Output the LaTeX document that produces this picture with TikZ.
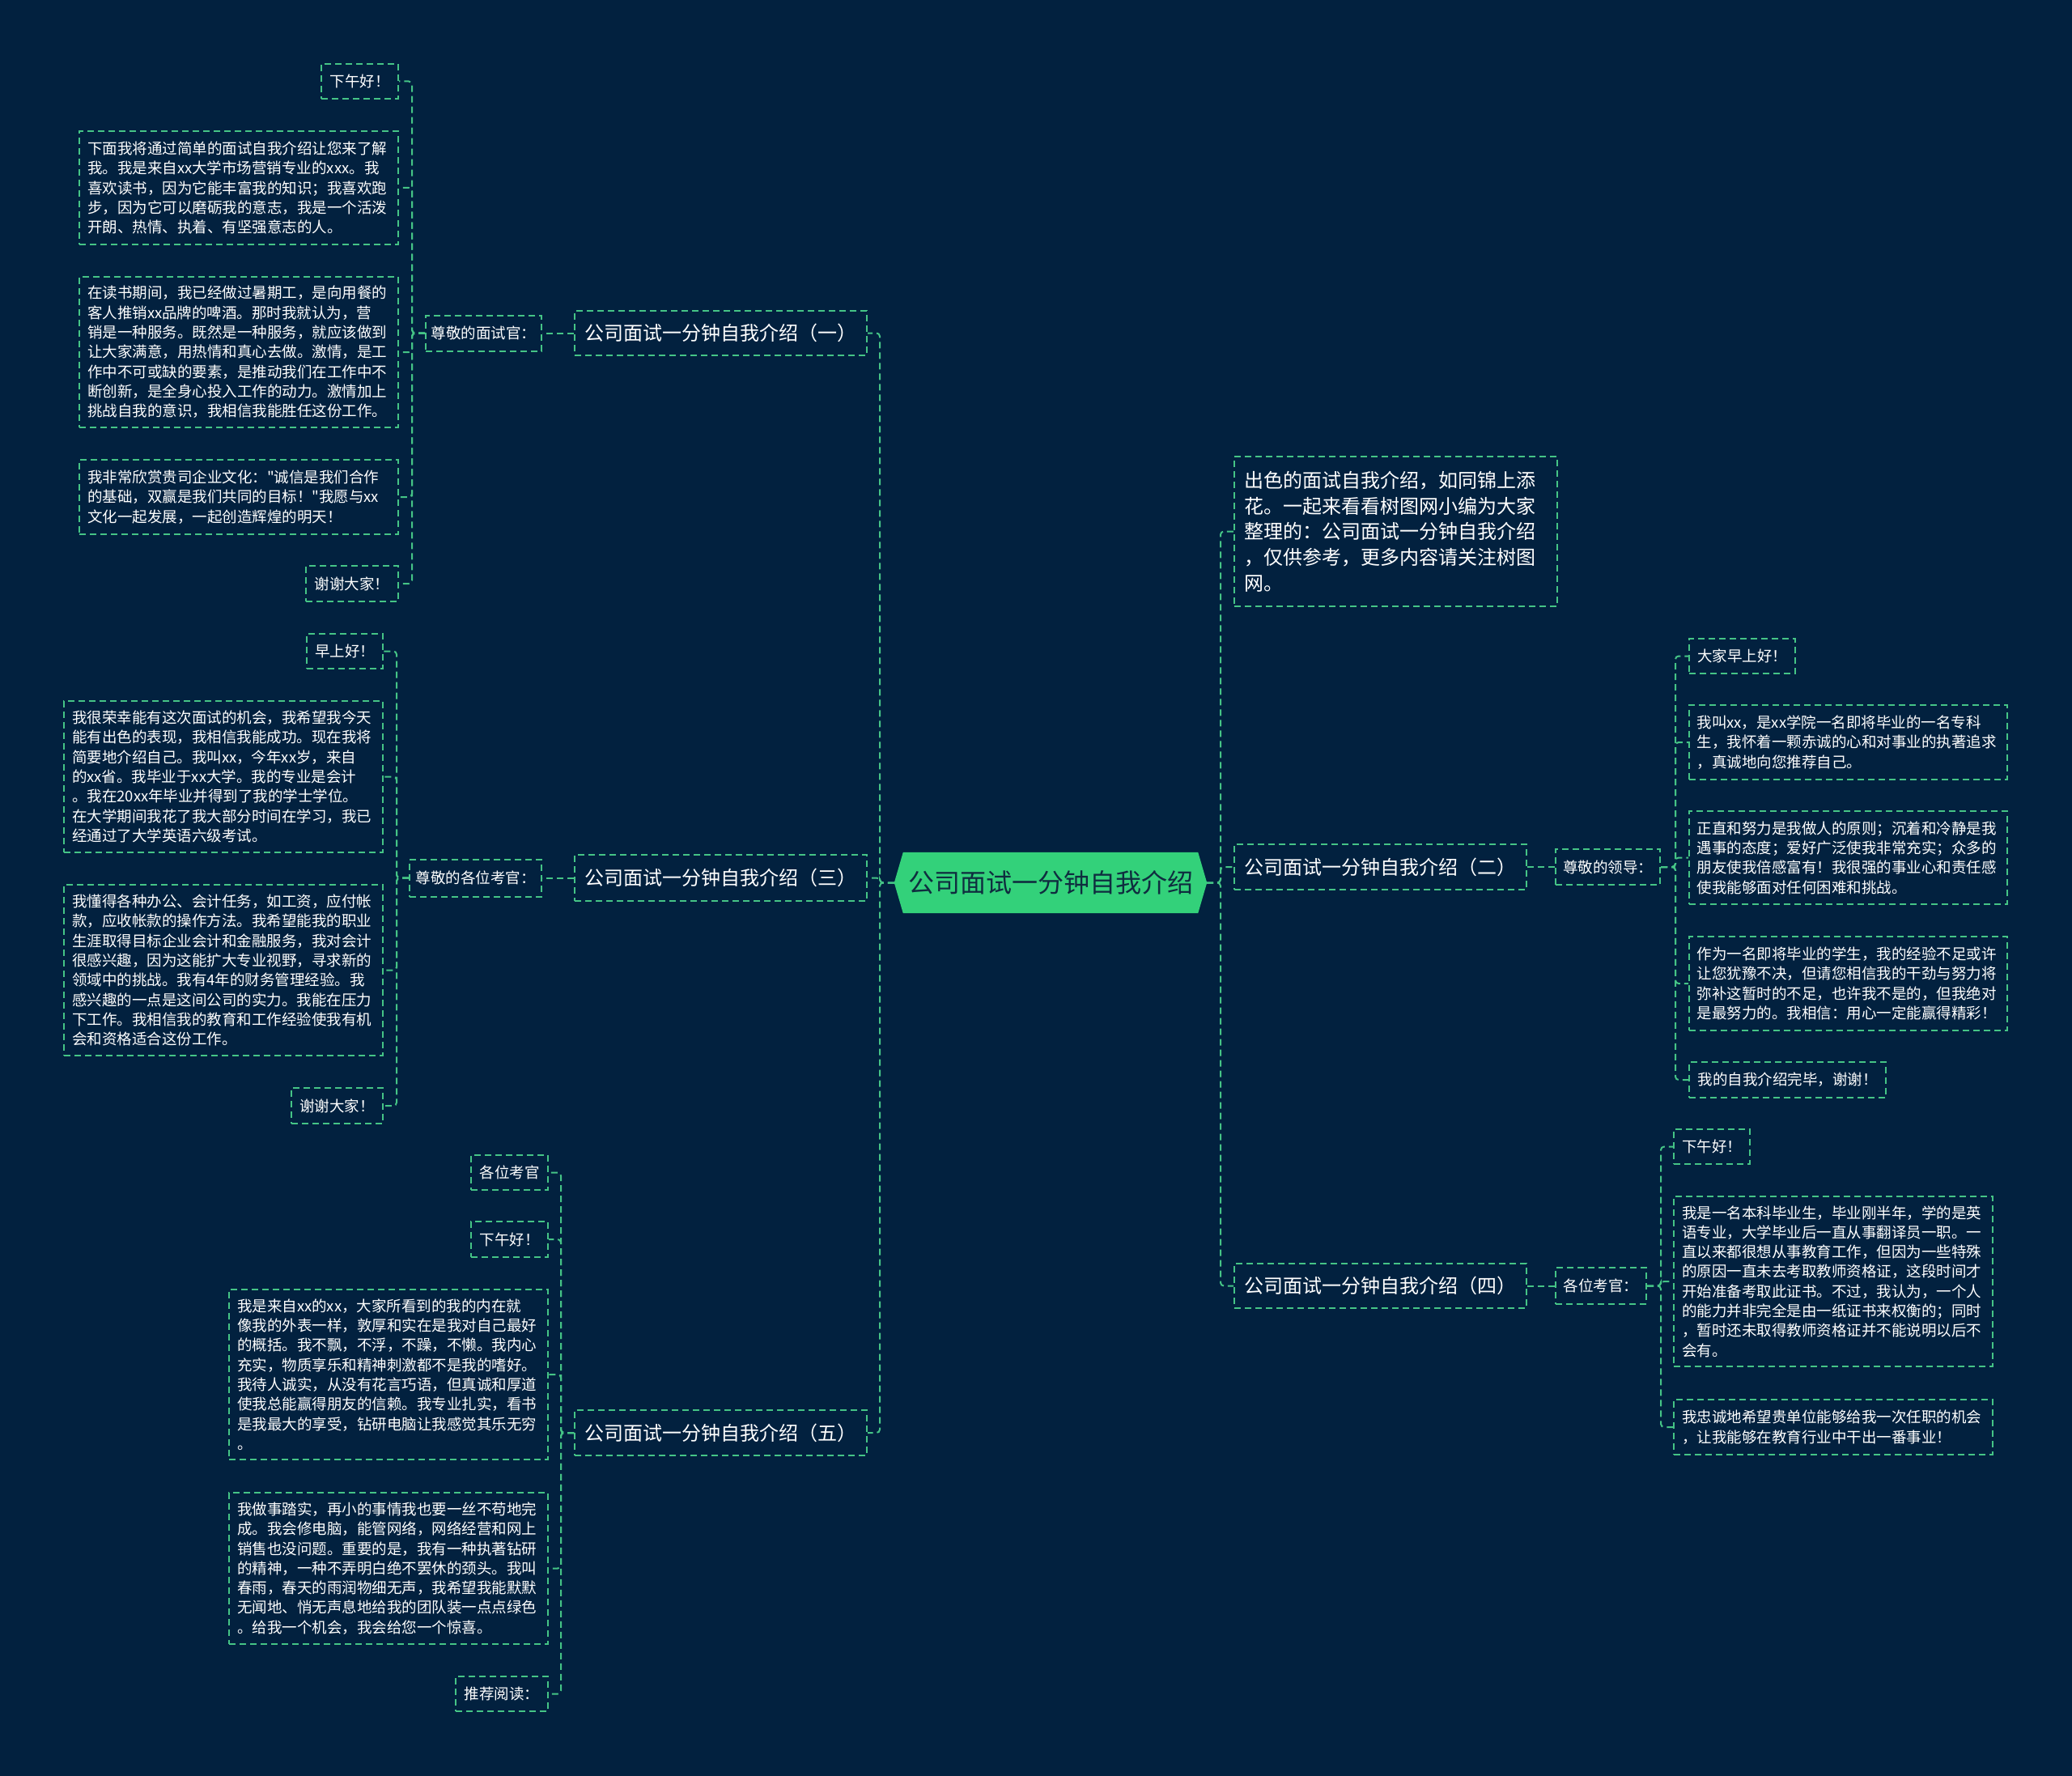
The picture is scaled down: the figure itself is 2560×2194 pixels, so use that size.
\documentclass[tikz,border=0pt]{standalone}
\usepackage{fontspec}
\newfontfamily\cjk{Noto Sans CJK SC}
\usetikzlibrary{calc}
\definecolor{bgc}{HTML}{02213F}
\definecolor{lineg}{HTML}{45C486}
\definecolor{rootg}{HTML}{33D17A}
\definecolor{roott}{HTML}{0F2D3F}
\pgfdeclarelayer{bg}
\pgfsetlayers{bg,main}
\tikzset{
  box/.style={draw=lineg, line width=2pt, dash pattern=on 8pt off 5pt, text=white,
    font=\cjk\fontsize{18.5}{24.3}\selectfont, inner sep=0pt, align=left},
  para/.style={box, text width=374pt},
  branch/.style={box, font=\cjk\fontsize{24}{30}\selectfont, minimum width=361pt},
  conn/.style={draw=lineg, line width=2pt, dash pattern=on 8pt off 5pt, rounded corners=4pt}
}
\begin{document}
\begin{tikzpicture}[x=1pt,y=-1pt]
\begin{pgfonlayer}{bg}
\fill[bgc] (0,0) rectangle (2560,2194);
\end{pgfonlayer}
\useasboundingbox (0,0) rectangle (2560,2194);

% spines
\coordinate (sL) at (1087,0);
\coordinate (sR) at (1508,0);
\coordinate (s1) at (509,0);
\coordinate (s3) at (490,0);
\coordinate (s5) at (693,0);
\coordinate (s2) at (2070,0);
\coordinate (s4) at (2052,0);

% root
\node[font=\cjk\fontsize{32}{38}\selectfont, text=roott, minimum width=386pt, minimum height=75pt, inner sep=0pt] (root) at (1298,1090.5) {公司面试一分钟自我介绍};
\begin{pgfonlayer}{bg}
\fill[rootg] ($(root.north west)+(11,0)$) -- ($(root.north east)+(-11,0)$) -- (root.east)
  -- ($(root.south east)+(-11,0)$) -- ($(root.south west)+(11,0)$) -- (root.west) -- cycle;
\end{pgfonlayer}

% branches
\node[branch, minimum height=55pt] (b1) at (890.5,411.5) {公司面试一分钟自我介绍（一）};
\node[branch, minimum height=57pt] (b3) at (890.5,1084.5) {公司面试一分钟自我介绍（三）};
\node[branch, minimum height=56pt] (b5) at (890.5,1770) {公司面试一分钟自我介绍（五）};
\node[branch, minimum height=56pt] (b2) at (1705.5,1071) {公司面试一分钟自我介绍（二）};
\node[branch, minimum height=55pt] (b4) at (1705.5,1588.5) {公司面试一分钟自我介绍（四）};
\node[box, font=\cjk\fontsize{24}{31.7}\selectfont, text width=375pt, minimum width=399pt, minimum height=185pt] (intro) at (1724.5,656.5)
{出色的面试自我介绍，如同锦上添\\花。一起来看看树图网小编为大家\\整理的：公司面试一分钟自我介绍\\，仅供参考，更多内容请关注树图\\网。};

% group 1
\node[box, minimum width=143pt, minimum height=44pt] (n1L) at (597.5,411.5) {尊敬的面试官：};
\node[box, minimum width=95pt, minimum height=43pt] (n1a) at (444.5,100.5) {下午好！};
\node[para, minimum width=394pt, minimum height=140pt] (n1b) at (295,232) {下面我将通过简单的面试自我介绍让您来了解\\我。我是来自xx大学市场营销专业的xxx。我\\喜欢读书，因为它能丰富我的知识；我喜欢跑\\步，因为它可以磨砺我的意志，我是一个活泼\\开朗、热情、执着、有坚强意志的人。};
\node[para, minimum width=394pt, minimum height=186pt] (n1c) at (295,435) {在读书期间，我已经做过暑期工，是向用餐的\\客人推销xx品牌的啤酒。那时我就认为，营\\销是一种服务。既然是一种服务，就应该做到\\让大家满意，用热情和真心去做。激情，是工\\作中不可或缺的要素，是推动我们在工作中不\\断创新，是全身心投入工作的动力。激情加上\\挑战自我的意识，我相信我能胜任这份工作。};
\node[para, minimum width=394pt, minimum height=92pt] (n1d) at (295,614) {我非常欣赏贵司企业文化："诚信是我们合作\\的基础，双赢是我们共同的目标！"我愿与xx\\文化一起发展，一起创造辉煌的明天！};
\node[box, minimum width=114pt, minimum height=44pt] (n1e) at (435,721) {谢谢大家！};

% group 3
\node[box, minimum width=163pt, minimum height=46pt] (n3L) at (587.5,1084.5) {尊敬的各位考官：};
\node[box, minimum width=94pt, minimum height=43pt] (n3a) at (426,804.5) {早上好！};
\node[para, minimum width=394pt, minimum height=187pt] (n3b) at (276,959.5) {我很荣幸能有这次面试的机会，我希望我今天\\能有出色的表现，我相信我能成功。现在我将\\简要地介绍自己。我叫xx，今年xx岁，来自\\的xx省。我毕业于xx大学。我的专业是会计\\。我在20xx年毕业并得到了我的学士学位。\\在大学期间我花了我大部分时间在学习，我已\\经通过了大学英语六级考试。};
\node[para, minimum width=394pt, minimum height=211pt] (n3c) at (276,1198.5) {我懂得各种办公、会计任务，如工资，应付帐\\款，应收帐款的操作方法。我希望能我的职业\\生涯取得目标企业会计和金融服务，我对会计\\很感兴趣，因为这能扩大专业视野，寻求新的\\领域中的挑战。我有4年的财务管理经验。我\\感兴趣的一点是这间公司的实力。我能在压力\\下工作。我相信我的教育和工作经验使我有机\\会和资格适合这份工作。};
\node[box, minimum width=113pt, minimum height=44pt] (n3d) at (416.5,1366) {谢谢大家！};

% group 5
\node[box, minimum width=95pt, minimum height=43pt] (n5a) at (629.5,1448.5) {各位考官};
\node[box, minimum width=95pt, minimum height=44pt] (n5b) at (629.5,1531) {下午好！};
\node[para, minimum width=394pt, minimum height=210pt] (n5c) at (480,1698) {我是来自xx的xx，大家所看到的我的内在就\\像我的外表一样，敦厚和实在是我对自己最好\\的概括。我不飘，不浮，不躁，不懒。我内心\\充实，物质享乐和精神刺激都不是我的嗜好。\\我待人诚实，从没有花言巧语，但真诚和厚道\\使我总能赢得朋友的信赖。我专业扎实，看书\\是我最大的享受，钻研电脑让我感觉其乐无穷\\。};
\node[para, minimum width=394pt, minimum height=187pt] (n5d) at (480,1937.5) {我做事踏实，再小的事情我也要一丝不苟地完\\成。我会修电脑，能管网络，网络经营和网上\\销售也没问题。重要的是，我有一种执著钻研\\的精神，一种不弄明白绝不罢休的颈头。我叫\\春雨，春天的雨润物细无声，我希望我能默默\\无闻地、悄无声息地给我的团队装一点点绿色\\。给我一个机会，我会给您一个惊喜。};
\node[box, minimum width=114pt, minimum height=43pt] (n5e) at (620,2092.5) {推荐阅读：};

% group 2
\node[box, minimum width=129pt, minimum height=44pt] (n2L) at (1986.5,1071) {尊敬的领导：};
\node[box, minimum width=131pt, minimum height=43pt] (n2a) at (2152.5,810.5) {大家早上好！};
\node[para, minimum width=393pt, minimum height=92pt] (n2b) at (2283.5,917) {我叫xx，是xx学院一名即将毕业的一名专科\\生，我怀着一颗赤诚的心和对事业的执著追求\\，真诚地向您推荐自己。};
\node[para, minimum width=393pt, minimum height=115pt] (n2c) at (2283.5,1059.5) {正直和努力是我做人的原则；沉着和冷静是我\\遇事的态度；爱好广泛使我非常充实；众多的\\朋友使我倍感富有！我很强的事业心和责任感\\使我能够面对任何困难和挑战。};
\node[para, minimum width=393pt, minimum height=116pt] (n2d) at (2283.5,1215) {作为一名即将毕业的学生，我的经验不足或许\\让您犹豫不决，但请您相信我的干劲与努力将\\弥补这暂时的不足，也许我不是的，但我绝对\\是最努力的。我相信：用心一定能赢得精彩！};
\node[box, minimum width=243pt, minimum height=44pt] (n2e) at (2208.5,1334) {我的自我介绍完毕，谢谢！};

% group 4
\node[box, minimum width=112pt, minimum height=45pt] (n4L) at (1978,1588.5) {各位考官：};
\node[box, minimum width=94pt, minimum height=43pt] (n4a) at (2115,1416.5) {下午好！};
\node[para, minimum width=394pt, minimum height=210pt] (n4b) at (2265,1583) {我是一名本科毕业生，毕业刚半年，学的是英\\语专业，大学毕业后一直从事翻译员一职。一\\直以来都很想从事教育工作，但因为一些特殊\\的原因一直未去考取教师资格证，这段时间才\\开始准备考取此证书。不过，我认为，一个人\\的能力并非完全是由一纸证书来权衡的；同时\\，暂时还未取得教师资格证并不能说明以后不\\会有。};
\node[para, minimum width=394pt, minimum height=68pt] (n4c) at (2265,1763) {我忠诚地希望贵单位能够给我一次任职的机会\\，让我能够在教育行业中干出一番事业！};

% connectors root
\foreach \b in {b1,b3,b5} \draw[conn] (root.west) -- (sL |- root.west) |- (\b.east);
\foreach \b in {intro,b2,b4} \draw[conn] (root.east) -- (sR |- root.east) |- (\b.west);
% branch to labels
\draw[conn] (b1.west) -- (n1L.east);
\draw[conn] (b3.west) -- (n3L.east);
\draw[conn] (b2.east) -- (n2L.west);
\draw[conn] (b4.east) -- (n4L.west);
% leaves
\foreach \n in {n1a,n1b,n1c,n1d,n1e} \draw[conn] (n1L.west) -- (s1 |- n1L.west) |- (\n.east);
\foreach \n in {n3a,n3b,n3c,n3d} \draw[conn] (n3L.west) -- (s3 |- n3L.west) |- (\n.east);
\foreach \n in {n5a,n5b,n5c,n5d,n5e} \draw[conn] (b5.west) -- (s5 |- b5.west) |- (\n.east);
\foreach \n in {n2a,n2b,n2c,n2d,n2e} \draw[conn] (n2L.east) -- (s2 |- n2L.east) |- (\n.west);
\foreach \n in {n4a,n4b,n4c} \draw[conn] (n4L.east) -- (s4 |- n4L.east) |- (\n.west);
\end{tikzpicture}
\end{document}
